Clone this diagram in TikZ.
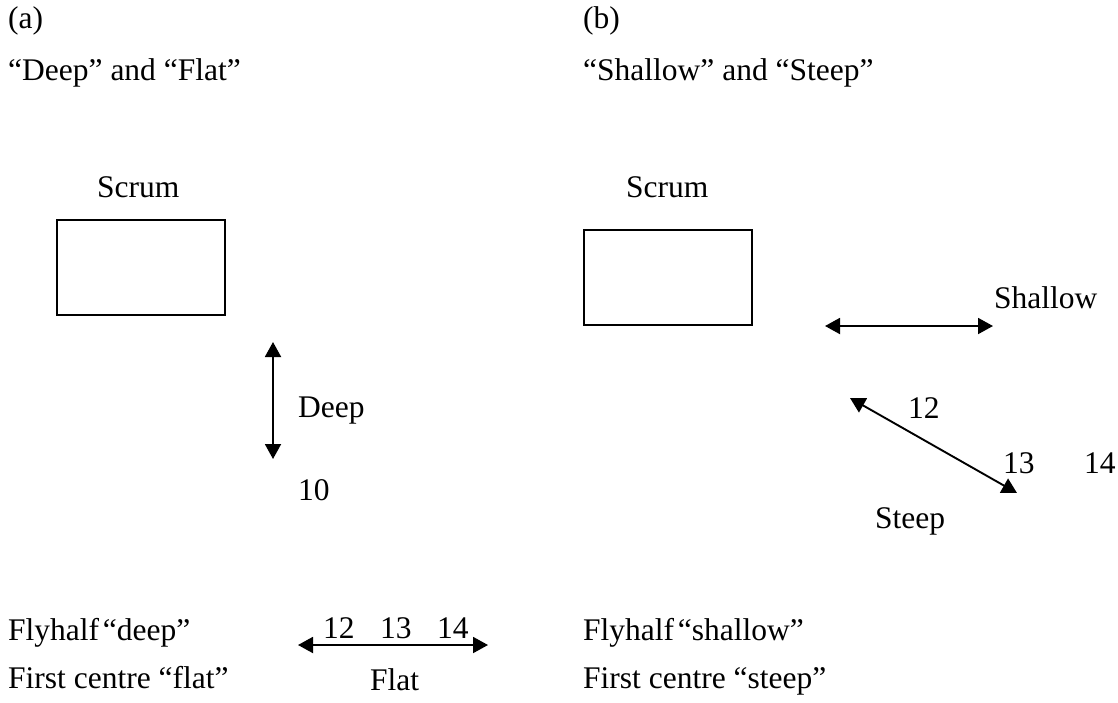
\documentclass[tikz,border=0pt]{standalone}
\usepackage{fontspec}
\setmainfont{Liberation Serif}
\usetikzlibrary{arrows.meta}
\begin{document}
\begin{tikzpicture}[x=1pt,y=-1pt,
  lbl/.style={inner sep=0pt,anchor=base west,font=\fontsize{31.5}{38}\selectfont},
  dbl/.style={line width=1.9pt,{Triangle[length=15pt,width=16pt]}-{Triangle[length=15pt,width=16pt]}},
  box/.style={draw,line width=1.8pt}]
\useasboundingbox (0,0) rectangle (1118,702);
% (a)
\node[lbl] (ta) at (8,28) {(a)};
\node[lbl] (sa) at (8,80) {“Deep” and “Flat”};
\node[lbl] (scra) at (97,197) {Scrum};
\draw[box] (57,220) rectangle (225,315);
\coordinate (d1) at (273,342);
\coordinate (d2) at (273,459);
\draw[dbl] (d1) -- (d2);
\node[lbl] (deep) at (298,417) {Deep};
\node[lbl] (ten) at (298,500) {10};
\node[lbl] (fa) at (8,640) {Flyhalf\hspace{0.12em}“deep”};
\node[lbl] (fca) at (8,688) {First centre “flat”};
\coordinate (f1) at (298,645);
\coordinate (f2) at (488,645);
\draw[dbl] (f1) -- (f2);
\node[lbl] (n12a) at (323,638) {12};
\node[lbl] (n13a) at (380,638) {13};
\node[lbl] (n14a) at (437,638) {14};
\node[lbl] (flat) at (370,690) {Flat};
% (b)
\node[lbl] (tb) at (583,28) {(b)};
\node[lbl] (sb) at (583,80) {“Shallow” and “Steep”};
\node[lbl] (scrb) at (626,197) {Scrum};
\draw[box] (584,230) rectangle (752,325);
\node[lbl] (shal) at (994,308) {Shallow};
\coordinate (s1) at (825,326);
\coordinate (s2) at (993,326);
\draw[dbl] (s1) -- (s2);
\coordinate (t1) at (850,398);
\coordinate (t2) at (1017,493);
\draw[dbl] (t1) -- (t2);
\node[lbl] (n12b) at (908,418) {12};
\node[lbl] (n13b) at (1003,473) {13};
\node[lbl] (n14b) at (1084,473) {14};
\node[lbl] (steep) at (875,528) {Steep};
\node[lbl] (fb) at (583,640) {Flyhalf\hspace{0.12em}“shallow”};
\node[lbl] (fcb) at (583,688) {First centre “steep”};
\end{tikzpicture}
\end{document}
